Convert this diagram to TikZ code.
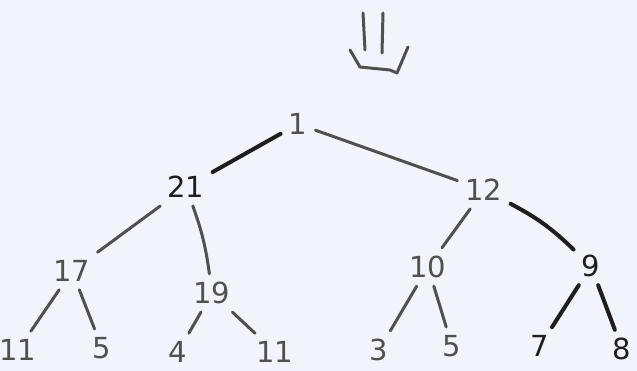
\documentclass[tikz,border=0pt]{standalone}
\usepackage{fontspec}
\setmainfont{DejaVu Sans}
\definecolor{paper}{HTML}{F1F5FB}
\definecolor{ink}{HTML}{505050}
\definecolor{dark}{HTML}{1E1E1E}
\tikzset{
  num/.style={font=\fontsize{29}{31}\selectfont, text=ink, inner sep=8pt},
  numd/.style={num, text=dark},
  edge/.style={draw=ink, line width=3pt, line cap=round},
  edged/.style={draw=dark, line width=4pt, line cap=round},
  arrowline/.style={draw=ink, line width=3pt, line cap=round, line join=round}
}
\begin{document}
\begin{tikzpicture}[x=1pt,y=-1pt]
\fill[paper] (0,0) rectangle (637,371);
\useasboundingbox (0,0) rectangle (637,371);
% arrow
\draw[arrowline] (363,13) -- (365,50);
\draw[arrowline] (383,13) -- (382,53);
\draw[arrowline] (350,50) -- (360,67) -- (390,70) -- (397,73) -- (408,47);
% nodes
\node[num] (r) at (298,124) {1};
\node[numd] (a) at (186,187) {21};
\node[num] (b) at (484,190) {12};
\node[num] (c) at (72,271) {17};
\node[num] (d) at (212,293) {19};
\node[num] (e) at (428,267) {10};
\node[numd] (f) at (591,266) {9};
\node[num] (g) at (18,350) {11};
\node[num] (h) at (102,348) {5};
\node[num] (i) at (178,352) {4};
\node[num] (j) at (275,352) {11};
\node[num] (k) at (379,350) {3};
\node[num] (l) at (452,346) {5};
\node[numd] (m) at (540,346) {7};
\node[numd] (n) at (622,349) {8};
% edges
\draw[edged] (a) -- (r);
\draw[edge] (r) -- (b);
\draw[edge] (a) -- (c);
\draw[edge] (a) to[bend left=6] (d);
\draw[edge] (b) -- (e);
\draw[edged] (b) to[bend left=8] (f);
\draw[edge] (c) -- (g);
\draw[edge] (c) -- (h);
\draw[edge] (d) -- (i);
\draw[edge] (d) -- (j);
\draw[edge] (e) -- (k);
\draw[edge] (e) -- (l);
\draw[edged] (f) -- (m);
\draw[edged] (f) -- (n);
\end{tikzpicture}
\end{document}
